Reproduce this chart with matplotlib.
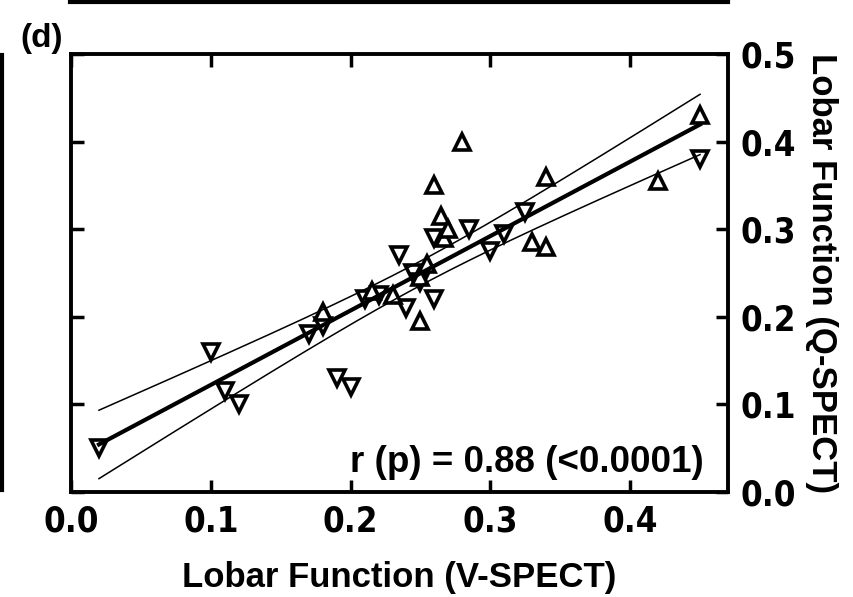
import numpy as np
import matplotlib
matplotlib.use("Agg")
import matplotlib.pyplot as plt
from matplotlib.lines import Line2D
from matplotlib import font_manager
from matplotlib.font_manager import FontProperties

# ---- data ----
down_x = [0.02, 0.10, 0.11, 0.12, 0.19, 0.20, 0.17, 0.18, 0.21, 0.22, 0.235, 0.24,
          0.245, 0.26, 0.26, 0.285, 0.30, 0.31, 0.325, 0.45, 0.25]
down_y = [0.05, 0.16, 0.115, 0.10, 0.13, 0.12, 0.18, 0.19, 0.22, 0.225, 0.27, 0.21,
          0.25, 0.22, 0.29, 0.30, 0.275, 0.295, 0.32, 0.38, 0.24]
up_x = [0.18, 0.215, 0.23, 0.25, 0.255, 0.265, 0.267, 0.26, 0.28, 0.33, 0.34, 0.34,
        0.42, 0.45, 0.25, 0.27]
up_y = [0.205, 0.23, 0.225, 0.195, 0.26, 0.315, 0.29, 0.35, 0.40, 0.285, 0.28, 0.36,
        0.355, 0.43, 0.245, 0.30]
x_ticks = [0.0, 0.1, 0.2, 0.3, 0.4]
y_ticks = [0.0, 0.1, 0.2, 0.3, 0.4, 0.5]
annot = "r (p) = 0.88 (<0.0001)"
panel = "(d)"
xlabel = "Lobar Function (V-SPECT)"
ylabel = "Lobar Function (Q-SPECT)"

# pick a condensed bold face for tick labels if one is installed
tick_fp = None
for f in font_manager.fontManager.ttflist:
    if f.name == "Liberation Sans Narrow" and f.weight in ("bold", 700):
        tick_fp = FontProperties(fname=f.fname, size=27)
        break
if tick_fp is None:
    for f in font_manager.fontManager.ttflist:
        if f.name == "DejaVu Sans" and f.stretch == "condensed" and f.weight in ("bold", 700):
            tick_fp = FontProperties(fname=f.fname, size=25)
            break
if tick_fp is None:
    tick_fp = FontProperties(family="Liberation Sans", weight="bold", size=23)

fig = plt.figure(figsize=(8.54, 5.97), dpi=100)
ax = fig.add_axes([71/854, 1-492/597, (728-71)/854, (492-54)/597])

ms = 11
ax.plot(down_x, down_y, linestyle="none", marker="v", markersize=ms,
        markerfacecolor="white", markeredgecolor="black", markeredgewidth=2.6, zorder=3)
ax.plot(up_x, up_y, linestyle="none", marker="^", markersize=ms,
        markerfacecolor="white", markeredgecolor="black", markeredgewidth=2.6, zorder=3)

# regression with 95% confidence band
X = np.array(down_x + up_x)
Y = np.array(down_y + up_y)
n = len(X)
b, a = np.polyfit(X, Y, 1)
xs = np.linspace(X.min(), X.max(), 200)
ys = a + b * xs
resid = Y - (a + b * X)
s = np.sqrt(np.sum(resid**2) / (n - 2))
se = s * np.sqrt(1/n + (xs - X.mean())**2 / np.sum((X - X.mean())**2))
t = 2.03
ax.plot(xs, ys, color="black", lw=3.0, zorder=4)
ax.plot(xs, ys + t*se, color="black", lw=1.1, zorder=4)
ax.plot(xs, ys - t*se, color="black", lw=1.1, zorder=4)

ax.set_xlim(0, 0.47)
ax.set_ylim(0, 0.5)
ax.set_xticks(x_ticks)
ax.set_yticks(y_ticks)
ax.set_xticklabels([f"{v:.1f}" for v in x_ticks])
ax.set_yticklabels([f"{v:.1f}" for v in y_ticks])
ax.yaxis.tick_right()
ax.tick_params(axis="both", which="both", direction="in", length=9, width=2.5,
               top=True, bottom=True, left=True, right=True, labelright=True,
               labelleft=False, pad=9)
for lab in ax.get_xticklabels() + ax.get_yticklabels():
    lab.set_fontproperties(tick_fp)
for sp in ax.spines.values():
    sp.set_linewidth(2.8)

ax.set_xlabel(xlabel, fontsize=25, fontweight="bold", family="Liberation Sans", labelpad=16)
ax.yaxis.set_label_position("right")
ax.set_ylabel(ylabel, fontsize=25, fontweight="bold", family="Liberation Sans",
              rotation=270, labelpad=30)
ax.text(0.963, 0.068, annot, transform=ax.transAxes, ha="right", va="center",
        fontsize=26.5, fontweight="bold", family="Liberation Sans")
fig.text(42/854, 1-38/597, panel, ha="center", va="center", fontsize=24,
         fontweight="bold", family="Liberation Sans")

# fragments of neighbouring panels
fig.add_artist(Line2D([70/854, 728/854], [1-2/597, 1-2/597], color="black", lw=3,
                      transform=fig.transFigure))
fig.add_artist(Line2D([2/854, 2/854], [1-55/597, 1-490/597], color="black", lw=3,
                      transform=fig.transFigure))

fig.savefig("out.png", dpi=100)
